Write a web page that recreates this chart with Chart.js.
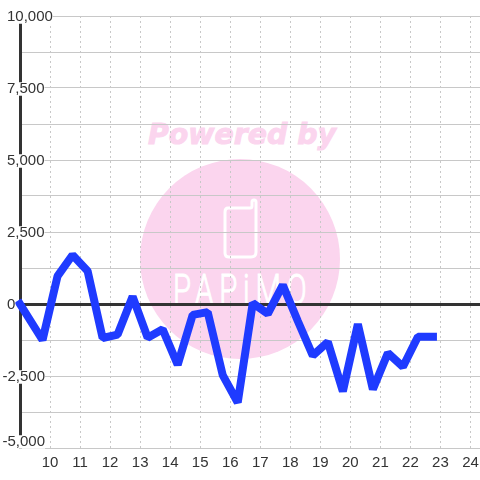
<!DOCTYPE html>
<html>
<head>
<meta charset="utf-8">
<style>
html,body{margin:0;padding:0;background:#fff;width:480px;height:480px;overflow:hidden}
#wrap{position:relative;width:480px;height:480px}
#wm{position:absolute;left:0;top:0}
#c{position:absolute;left:0;top:0}
</style>
<script src="https://cdn.jsdelivr.net/npm/chart.js@4/dist/chart.umd.min.js"></script>
</head>
<body>
<div id="wrap">
<svg id="wm" width="480" height="480" viewBox="0 0 480 480">
  <circle cx="240" cy="259" r="100" fill="#fbd5ee"/>
  <text x="148" y="144" textLength="188" lengthAdjust="spacingAndGlyphs" font-family="DejaVu Sans" font-weight="700" font-style="italic" font-size="29" fill="#fbd5ee" stroke="#fbd5ee" stroke-width="1">Powered by</text>
  <path d="M228 208 H250 Q252 208 252 206 V202 Q252 200 254 200 Q256 200 256 202 V252 Q256 257 251 257 H229 Q225 257 225 253 V212 Q225 208 228 208 Z" fill="none" stroke="#fff" stroke-width="3"/>
  <text transform="translate(173,304) scale(0.7,1)" textLength="191" lengthAdjust="spacing" font-family="Roboto" font-weight="300" font-size="42" fill="#fff" stroke="#fff" stroke-width="1">PAPiMO</text>
</svg>
<canvas id="c" width="480" height="480"></canvas>
</div>
<script>
const hours = [9,9.75,10.25,10.75,11.25,11.75,12.25,12.75,13.25,13.75,14.25,14.75,15.25,15.75,16.25,16.75,17.25,17.75,18.25,18.75,19.25,19.75,20.25,20.75,21.25,21.75,22.25,22.75];
const values = [0,-1250,970,1700,1150,-1180,-1060,260,-1170,-880,-2110,-380,-280,-2470,-3420,30,-340,660,-590,-1790,-1320,-3030,-700,-2960,-1700,-2180,-1140,-1140];

const points = hours.map((h,i)=>({x:h,y:values[i]}));
const fontSpec = {family:'"Liberation Sans", Arial, sans-serif', size:15, lineHeight:0.9};

const labelNudge = {
  id:'labelNudge',
  beforeDraw(chart){
    const items = chart.scales.y.getLabelItems();
    if(items._nudged) return;
    items._nudged = true;
    items.forEach(it=>{
      const txt = String(it.label);
      it.options.translation[1] += 1;
      if(txt.startsWith('-')) it.options.translation[0] -= 4.5;
      if(txt === '-5,000') it.options.translation[1] -= 7;
    });
  }
};

new Chart(document.getElementById('c'),{
  type:'line',
  data:{datasets:[{
    data:points,
    borderColor:'#1f3bff',
    borderWidth:8,
    borderJoinStyle:'bevel',
    borderCapStyle:'square',
    pointRadius:0,
    tension:0,
    fill:false,
    clip:false
  }]},
  plugins:[labelNudge],
  options:{
    responsive:false,
    animation:false,
    devicePixelRatio:1,
    layout:{padding:{top:16,right:0,bottom:0,left:0}},
    plugins:{legend:{display:false},tooltip:{enabled:false},title:{display:false}},
    scales:{
      x:{
        type:'linear',
        min:9,
        max:24.317,
        afterFit(s){s.height=32;s.paddingRight=0;s.paddingLeft=0;},
        grid:{color:'#c8c8c8',lineWidth:1,drawTicks:false,tickLength:0},
        border:{display:false,dash:[2,3]},
        ticks:{
          stepSize:1,
          includeBounds:false,
          autoSkip:false,
          maxRotation:0,
          padding:6,
          color:'#333',
          font:{family:fontSpec.family,size:15},
          callback:v=> v===9 ? '' : String(v)
        }
      },
      y:{
        min:-5000,
        max:10000,
        afterFit(s){s.width=20;},
        grid:{
          color:c=> c.tick && c.tick.value===0 ? '#333' : '#c8c8c8',
          lineWidth:c=> c.tick && c.tick.value===0 ? 3 : 1,
          drawTicks:false,
          tickLength:0
        },
        border:{display:true,color:'#333',width:3},
        ticks:{
          stepSize:1250,
          autoSkip:false,
          mirror:true,
          padding:-13,
          crossAlign:'near',
          z:1,
          color:'#333',
          font:fontSpec,
          showLabelBackdrop:true,
          backdropColor:'#fff',
          backdropPadding:0,
          callback:v=> v%2500===0 ? v.toLocaleString('en-US') : ''
        }
      }
    }
  }
});
</script>
</body>
</html>
